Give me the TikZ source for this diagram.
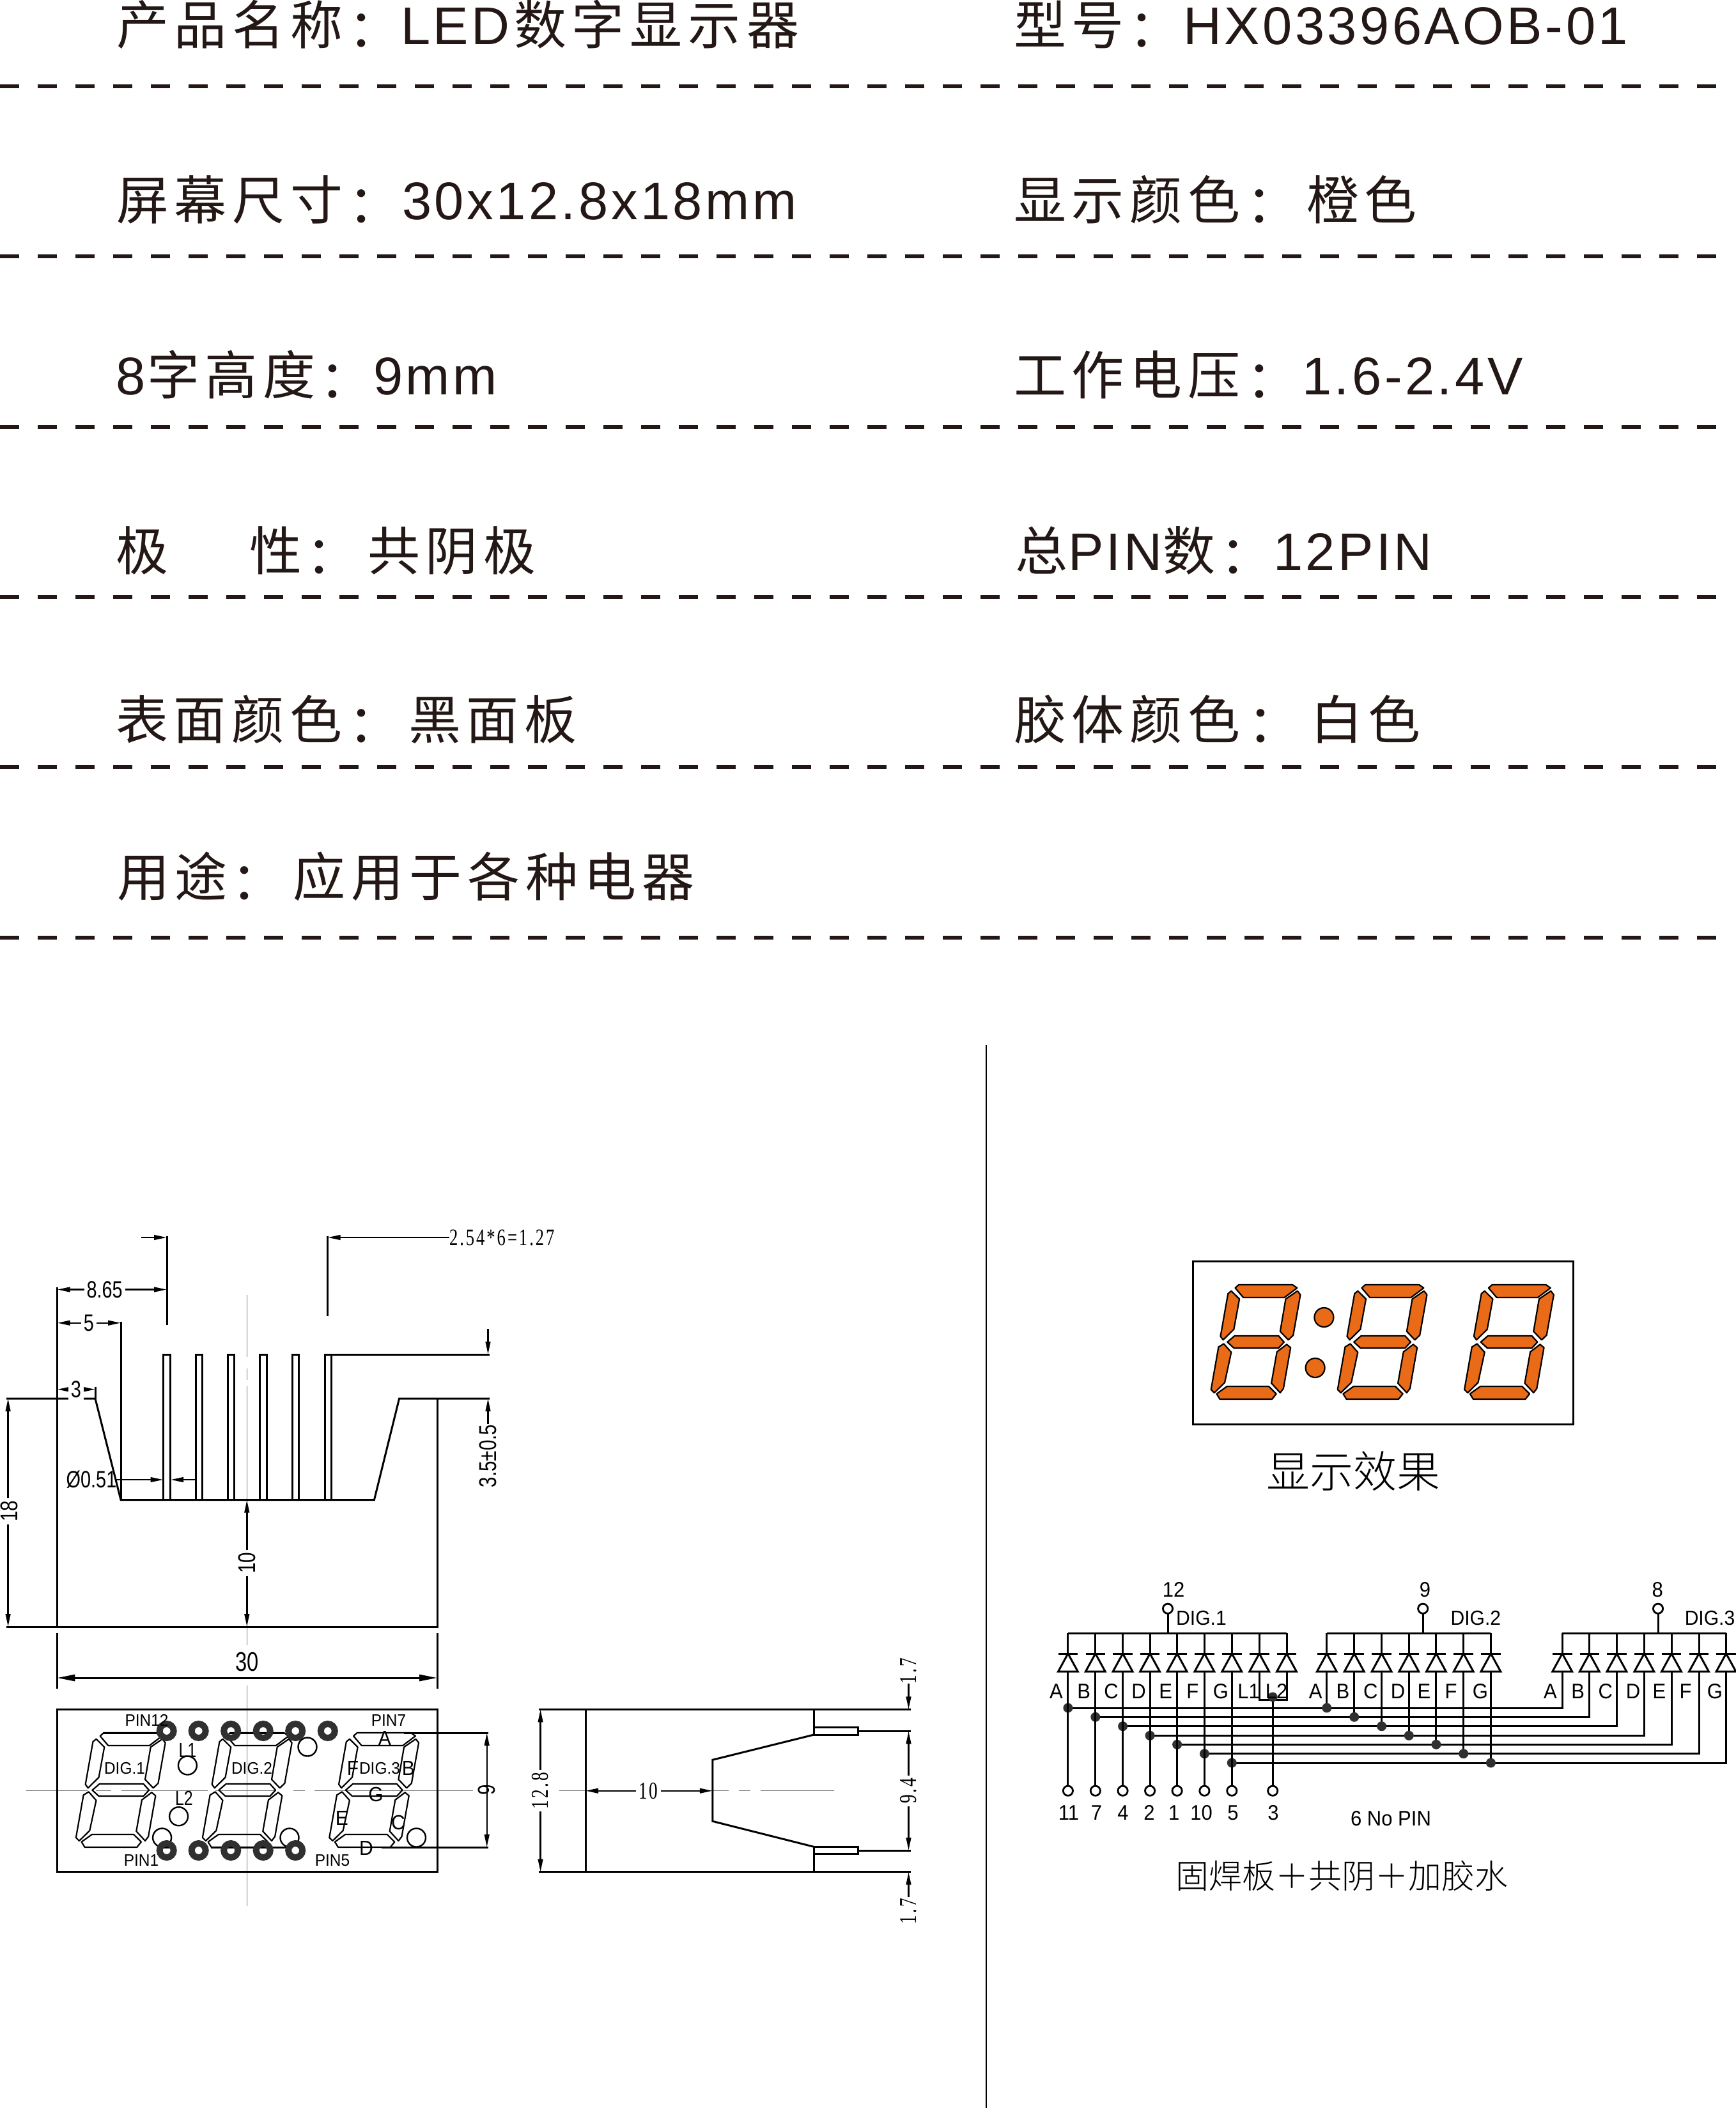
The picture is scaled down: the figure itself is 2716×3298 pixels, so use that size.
\documentclass[tikz,border=0pt]{standalone}
\usepackage{fontspec}
\usetikzlibrary{arrows.meta}
\setmainfont{Liberation Sans}
\newfontfamily\cnf[LetterSpace=11]{Noto Sans CJK SC}
\newfontfamily\cnp{Noto Sans CJK SC Light}
\newfontfamily\cntc{Noto Sans CJK TC}
\newfontfamily\latf[LetterSpace=5.5]{Liberation Sans}
\newfontfamily\narf[FakeStretch=0.78]{Liberation Sans}
\newfontfamily\labf[FakeStretch=0.94]{Liberation Sans}
\newfontfamily\serf[FakeStretch=0.72,LetterSpace=8]{Liberation Serif}
\newcommand\fpx[1]{\fontsize{\the\dimexpr#1pt/4\relax}{\the\dimexpr#1pt/4\relax}\selectfont}
\definecolor{inkc}{HTML}{231815}
\definecolor{segor}{HTML}{E96B17}
\definecolor{cl}{HTML}{777777}
\definecolor{pinc}{HTML}{303030}
\newcounter{tn}
\newcommand\lbl[4][]{\stepcounter{tn}\node[txt,#1] (t\arabic{tn}) at (#2,#3) {#4};}
\newcommand\hcn[3]{\lbl[anchor=base west,text=inkc]{#1}{#2}{\cnf\fpx{82}#3}}
\newcommand\hlat[3]{\lbl[anchor=base west,text=inkc]{#1}{#2}{\latf\fpx{83}#3}}
\newcommand\hcol[2]{\lbl[anchor=base,text=inkc,xshift=-.75pt,yshift=-2.5pt]{#1}{#2}{\cntc\fpx{82}\makebox[0pt]{：}}}
% seven-segment digit, local coordinates read at 1.96x / 3x
\newcommand\segdigit[3]{%
 \begin{scope}[shift={(#1,#2)},x=0.12755pt,y=-0.08333pt]
  \draw[#3] (307,468)--(318,453)--(483,453)--(497,468)--(458,513)--(332,513)--cycle;
  \draw[#3] (285,495)--(295,482)--(320,520)--(303,662)--(270,712)--(262,695)--cycle;
  \draw[#3] (507,500)--(485,690)--(470,712)--(445,672)--(462,520)--(498,482)--cycle;
  \draw[#3] (283,722)--(305,693)--(440,693)--(457,722)--(440,750)--(303,750)--cycle;
  \draw[#3] (256,745)--(272,730)--(295,770)--(275,912)--(243,960)--(233,945)--cycle;
  \draw[#3] (477,748)--(455,940)--(445,960)--(418,915)--(435,768)--(465,733)--cycle;
  \draw[#3] (250,965)--(282,930)--(410,930)--(433,965)--(420,990)--(260,990)--cycle;
 \end{scope}}
\tikzset{
 txt/.style={inner sep=0pt,outer sep=0pt},
 wht/.style={fill=white,inner sep=1pt},
 headdash/.style={draw=inkc,line width=1.5pt,dash pattern=on 7.375pt off 7.375pt},
 ln/.style={line width=.75pt,line join=miter},
 dim/.style={line width=.6pt},
 tipa/.tip={Triangle[length=5pt,width=1.9pt]},
 tipb/.tip={Triangle[length=7pt,width=2.5pt]},
 cline/.style={draw=cl,line width=.3pt},
 sch/.style={line width=.75pt,line join=miter},
 ledseg/.style={draw,line width=.55pt,line join=round},
 onseg/.style={draw=black,fill=segor,line width=.55pt,line join=round},
 pinring/.style={draw=pinc,line width=2.5pt},
 opin/.style={draw,line width=.7pt,fill=white},
 jdot/.style={fill=pinc,draw=none},
}
\begin{document}
\begin{tikzpicture}[x=0.25pt,y=-0.25pt]
\useasboundingbox (0,0) rectangle (2716,3298);
\fill[white] (0,0) rectangle (2716,3298);
% ---------- header rows
\foreach \yy in {134.7,401,667.5,934,1200.3,1466.7}{\draw[headdash] (0,\yy)--(2687,\yy);}
\hcn{182}{69}{产品名称}\hcol{568}{69}\hlat{627}{69}{LED}\hcn{804}{69}{数字显示器}
\hcn{182}{343}{屏幕尺寸}\hcol{568}{343}\hlat{629}{343}{30x12.8x18mm}
\hlat{181}{617}{8}\hcn{230}{617}{字高度}\hcol{523.6}{617}\hlat{584}{617}{9mm}
\hcn{181}{892}{极}\hcn{390}{892}{性}\hcol{502}{892}\hcn{575}{892}{共阴极}
\hcn{181}{1156}{表面颜色}\hcol{568.6}{1156}\hcn{639}{1156}{黑面板}
\hcn{183}{1402}{用途}\hcol{385.6}{1402}\hcn{458.6}{1402}{应用于各种电器}
\hcn{1586}{69}{型号}\hcol{1789}{69}\hlat{1851}{69}{HX03396AOB-01}
\hcn{1586}{343}{显示颜色}\hcol{1973}{343}\hcn{2044}{343}{橙色}
\hcn{1586}{617}{工作电压}\hcol{1973}{617}\hlat{2037}{617}{1.6-2.4V}
\hcn{1588}{892}{总}\hlat{1671}{892}{PIN}\hcn{1819}{892}{数}\hcol{1932}{892}\hlat{1992}{892}{12PIN}
\hcn{1586}{1156}{胶体颜色}\hcol{1975.6}{1156}\hcn{2050}{1156}{白色}
% ---------- separator
\draw[line width=.5pt] (1543.4,1635)--(1543.4,3298);
% ---------- front view: centre lines
\draw[cline] (386.3,2026)--(386.3,2123) (386.3,2141)--(386.3,2159) (386.3,2168)--(386.3,2574);
\draw[cline] (386.7,2637)--(386.7,2982);
\draw[cline] (41,2801.7)--(137,2801.7) (150,2801.7)--(174,2801.7) (190,2801.7)--(325,2801.7) (337,2801.7)--(431,2801.7) (459,2801.7)--(477,2801.7) (492,2801.7)--(740,2801.7);
% body
\draw[ln] (89.6,2014)--(89.6,2545);
\draw[ln] (10,2545)--(684,2545)--(684,2188);
\draw[ln] (10,2188)--(149,2188)--(189,2346.5)--(585.5,2346.5)--(624.6,2188)--(766,2188);
\draw[ln] (189,2067.5)--(189,2346.5);
\foreach \pa/\pb in {255.5/266,306/316.3,356.5/366.8,406.4/417.3,457/467.9,508/518.4}{
  \draw[ln] (\pa,2346.5)--(\pa,2119)--(\pb,2119)--(\pb,2346.5);}
\draw[ln] (518.4,2119)--(766,2119);
% dims
\draw[ln] (261,1933.6)--(261,2073);
\draw[ln] (512.6,1933.6)--(512.6,2058.6);
\draw[dim,-tipa] (221,1936)--(261,1936);
\draw[dim,-tipa] (703,1936)--(512.6,1936);
\lbl[anchor=west]{703}{1936}{\serf\fpx{37}2.54*6=1.27}
\draw[dim,tipa-tipa] (89.6,2017.5)--(261,2017.5);
\lbl[wht]{163.6}{2017.5}{\narf\fpx{37}8.65}
\draw[dim,tipa-tipa] (89.6,2069.7)--(189,2069.7);
\lbl[wht]{139}{2069.7}{\narf\fpx{37}5}
\draw[ln] (149,2170)--(149,2188);
\draw[dim,tipa-tipa] (89.6,2173.7)--(149,2173.7);
\lbl[wht]{119}{2173.7}{\narf\fpx{37}3}
\draw[dim,tipa-tipa] (12.6,2188)--(12.6,2545);
\lbl[wht,rotate=90]{14}{2364}{\narf\fpx{38}18}
\draw[dim,tipa-tipa] (386.3,2346.5)--(386.3,2545);
\lbl[wht,rotate=90]{386.3}{2445}{\narf\fpx{38}10}
\draw[dim,-tipa] (181,2315)--(255.5,2315);
\draw[dim,-tipa] (306,2315)--(267,2315);
\lbl{143}{2315}{\narf\fpx{37}Ø0.51}
\draw[dim,-tipa] (763.5,2079)--(763.5,2119);
\draw[dim,-tipa] (763.5,2228)--(763.5,2188);
\lbl[rotate=90]{763.5}{2278}{\narf\fpx{38}3.5±0.5}
% ---------- top view
\draw[ln] (89.3,2555)--(89.3,2642);
\draw[ln] (684,2555)--(684,2642);
\draw[ln,{tipb}-{tipb}] (89.3,2625)--(684,2625);
\lbl{386.7}{2600}{\narf\fpx{42}30}
\draw[ln] (89.3,2674)rectangle(684,2928.7);
\segdigit{0}{2560}{ledseg}
\segdigit{198}{2560}{ledseg}
\segdigit{396.4}{2560}{ledseg}
\foreach \cx/\cy in {481/2733,293.4/2762,279.6/2841.7,253.6/2875,453/2875,651.5/2875}{
  \draw[line width=.6pt] (\cx,\cy) circle[radius=14.5];}
\foreach \ex/\fx/\ey in {162/250/2711,360/445/2711,632/764/2711,597/764/2890,248/270/2890,330/450/2890}{
  \draw[ln] (\ex,\ey)--(\fx,\ey);}
\foreach \px in {260.7,310.7,361.2,411.7,462.2,512.8}{
  \draw[pinring] (\px,2708) circle[radius=11];}
\foreach \px in {260.7,310.7,361.2,411.7,462.2}{
  \draw[pinring] (\px,2895) circle[radius=11];}
\draw[dim,tipa-tipa] (761.7,2711)--(761.7,2890);
\lbl[rotate=90]{761.7}{2800.7}{\narf\fpx{38}9}
\lbl{229.6}{2691}{\labf\fpx{26}PIN12}
\lbl{608}{2692}{\labf\fpx{26}PIN7}
\lbl{221}{2911}{\labf\fpx{26}PIN1}
\lbl{520}{2911}{\labf\fpx{26}PIN5}
\lbl{293.4}{2738}{\narf\fpx{32}L1}
\lbl{288}{2813}{\narf\fpx{32}L2}
\lbl{195}{2767}{\labf\fpx{26}DIG.1}
\lbl{394}{2767}{\labf\fpx{26}DIG.2}
\lbl{594}{2767}{\labf\fpx{26}DIG.3}
\lbl{602}{2719}{\labf\fpx{32}A}
\lbl{639}{2766}{\labf\fpx{32}B}
\lbl{623}{2851}{\labf\fpx{32}C}
\lbl{573}{2891}{\labf\fpx{32}D}
\lbl{535}{2844}{\labf\fpx{32}E}
\lbl{552}{2766}{\labf\fpx{32}F}
\lbl{588}{2807}{\labf\fpx{32}G}
% ---------- side view
\draw[cline] (874.6,2801.7)--(916,2801.7) (1114.8,2801.7)--(1140,2801.7) (1156,2801.7)--(1174,2801.7) (1190,2801.7)--(1304.5,2801.7);
\draw[ln] (842.5,2674.3)--(1425,2674.3);
\draw[ln] (842.5,2928.7)--(1425,2928.7);
\draw[ln] (916,2674.3)--(916,2928.7);
\draw[ln] (1273.3,2674.3)--(1273.3,2702.7);
\draw[ln] (1273.3,2900.7)--(1273.3,2928.7);
\draw[ln] (1273.3,2702.7) rectangle (1342.5,2714);
\draw[ln] (1273.3,2889.3) rectangle (1342.5,2900.7);
\draw[ln] (1273.3,2714)--(1114.8,2753.3)--(1114.8,2849.3)--(1273.3,2889.3);
\draw[ln] (1342.5,2708.3)--(1425,2708.3);
\draw[ln] (1342.5,2895)--(1425,2895);
\draw[dim,tipa-tipa] (845.6,2674.3)--(845.6,2928.7);
\lbl[wht,rotate=90]{845.6}{2801.7}{\serf\fpx{38}12.8}
\draw[dim,tipa-tipa] (916,2801.7)--(1114.8,2801.7);
\lbl[wht]{1014.4}{2801.7}{\serf\fpx{38}10}
\draw[dim,tipa-tipa] (1421.5,2708.3)--(1421.5,2895);
\lbl[wht,rotate=90]{1421.5}{2801.7}{\serf\fpx{38}9.4}
\draw[dim,-tipa] (1421.5,2634)--(1421.5,2674.3);
\lbl[rotate=90]{1421.5}{2614}{\serf\fpx{38}1.7}
\draw[dim,-tipa] (1421.5,2968)--(1421.5,2928.7);
\lbl[rotate=90]{1421.5}{2990}{\serf\fpx{38}1.7}
% ---------- display effect
\draw[line width=.75pt] (1866.5,1973.3) rectangle (2461.6,2228.3);
\segdigit{1775.8}{1859}{onseg}
\segdigit{1973.8}{1859}{onseg}
\segdigit{2172.2}{1859}{onseg}
\draw[onseg] (2071.4,2061) circle[radius=15];
\draw[onseg] (2057.6,2140) circle[radius=15];
\lbl{2117.6}{2301.7}{\cnp\fpx{68}显示效果}
% ---------- schematic
% row wires
\foreach \yy/\xa/\xb in {2672/1670.9/2444.2,2686.3/1713.8/2486.8,2700.7/1756.6/2529.4,2715.3/1799.1/2572.4,2729.3/1841.6/2615,2743.7/1884.4/2658,2758/1927.3/2700.5}{
  \draw[sch] (\xa,\yy)--(\xb,\yy)--(\xb,2615);
  \fill[jdot] (\xa,\yy) circle[radius=7.5];}
% buses
\draw[sch] (1670.9,2555.3)--(2013,2555.3);
\draw[sch] (2075.8,2555.3)--(2332.4,2555.3);
\draw[sch] (2444.2,2555.3)--(2700.5,2555.3);
% diodes
\foreach \x in {1670.9,1713.8,1756.6,1799.1,1841.6,1884.4,1927.3,1970.2,2013,2075.8,2118.7,2161.6,2204.3,2246.9,2289.7,2332.4,2444.2,2486.8,2529.4,2572.4,2615,2658,2700.5}{
  \draw[sch] (\x,2555.3)--(\x,2587);
  \draw[sch] (\x-15.3,2587)--(\x+15.3,2587);
  \draw[sch] (\x,2587)--(\x-15.3,2615)--(\x+15.3,2615)--cycle;}
% group 1 stems to pins
\foreach \x in {1670.9,1713.8,1756.6,1799.1,1841.6,1884.4,1927.3}{
  \draw[sch] (\x,2615)--(\x,2794);
  \draw[opin] (\x,2801.7) circle[radius=7.6];}
\draw[sch] (1970.2,2615)--(1970.2,2659.3)--(2013,2659.3)--(2013,2615);
\draw[sch] (1991.2,2659.3)--(1991.2,2794);
\draw[opin] (1991.2,2801.7) circle[radius=7.6];
\fill[jdot] (1991.2,2655) circle[radius=7.5];
% group 2 stems with dots
\foreach \x/\yy in {2075.8/2672,2118.7/2686.3,2161.6/2700.7,2204.3/2715.3,2246.9/2729.3,2289.7/2743.7,2332.4/2758}{
  \draw[sch] (\x,2615)--(\x,\yy);
  \fill[jdot] (\x,\yy) circle[radius=7.5];}
% common pins
\foreach \x in {1827,2226.2,2594}{
  \draw[sch] (\x,2555.3)--(\x,2524);
  \draw[opin] (\x,2516.7) circle[radius=7.6];}
\lbl{1836}{2486.7}{\labf\fpx{33}12}
\lbl{2229.4}{2486.7}{\labf\fpx{33}9}
\lbl{2593.3}{2486.7}{\labf\fpx{33}8}
\lbl{1879.5}{2531.7}{\labf\fpx{32}DIG.1}
\lbl{2308.8}{2531.7}{\labf\fpx{32}DIG.2}
\lbl{2675}{2531.7}{\labf\fpx{32}DIG.3}
\foreach \t/\x in {A/1652.5,B/1695.8,C/1738.6,D/1781.5,E/1823.6,F/1865.7,G/1910,L1/1953.7,L2/1997,A/2058.2,B/2101,C/2144.3,D/2187,E/2228,F/2270,G/2316,A/2425.5,B/2468.8,C/2511.7,D/2555,E/2596,F/2637,G/2683}{
  \lbl{\x}{2646}{\labf\fpx{33}\t}}
\foreach \t/\x in {11/1672,7/1715.6,4/1757,2/1798,1/1836.7,10/1879.5,5/1929,3/1992}{
  \lbl{\x}{2836}{\labf\fpx{33}\t}}
\lbl{2176}{2845}{\labf\fpx{33}6 No PIN}
\lbl{2099}{2935}{\cnp\fpx{52}固焊板＋共阴＋加胶水}
\end{tikzpicture}
\end{document}
